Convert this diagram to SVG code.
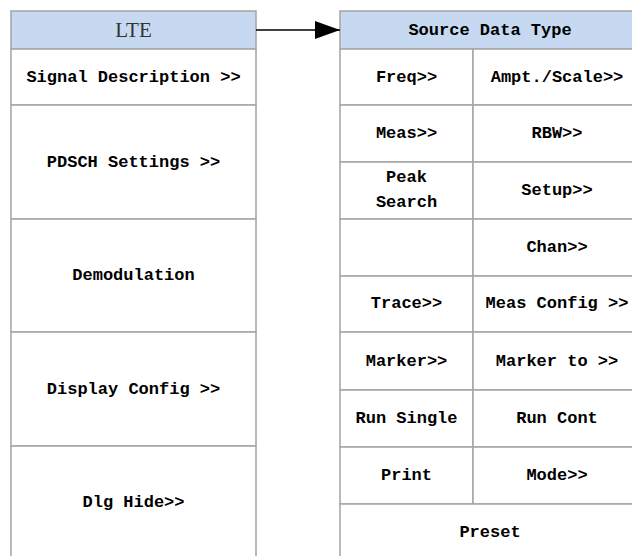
<svg xmlns="http://www.w3.org/2000/svg" width="632" height="556" viewBox="0 0 632 556">
<defs>
<style>
.cell{fill:#fff;stroke:#a8a8a8;stroke-width:1.6}
.hdr{fill:#c6d9f0;stroke:#a8a8a8;stroke-width:1.6}
.t{font-family:"Liberation Mono",monospace;font-size:17px;fill:#000;text-anchor:middle;dominant-baseline:central;font-weight:bold}
.lte{font-family:"Liberation Serif",serif;font-size:21px;fill:#333;text-anchor:middle;dominant-baseline:central}
</style>
<marker id="ah" markerWidth="26" markerHeight="18" refX="25" refY="9" orient="auto" markerUnits="userSpaceOnUse">
<path d="M0,0 L25,9 L0,18 Z" fill="#000"/>
</marker>
</defs>
<g id="lte">
<rect class="hdr" x="11" y="11" width="245" height="38"/>
<text class="lte" x="133.5" y="30">LTE</text>
<rect class="cell" x="11" y="49" width="245" height="56"/>
<text class="t" x="133.5" y="77">Signal Description &gt;&gt;</text>
<rect class="cell" x="11" y="105" width="245" height="114"/>
<text class="t" x="133.5" y="162">PDSCH Settings &gt;&gt;</text>
<rect class="cell" x="11" y="219" width="245" height="113"/>
<text class="t" x="133.5" y="275">Demodulation</text>
<rect class="cell" x="11" y="332" width="245" height="114"/>
<text class="t" x="133.5" y="389">Display Config &gt;&gt;</text>
<rect class="cell" x="11" y="446" width="245" height="120"/>
<text class="t" x="133.5" y="502">Dlg Hide&gt;&gt;</text>
</g>
<g id="source">
<rect class="hdr" x="340" y="11" width="301" height="38"/>
<text class="t" x="490" y="30">Source Data Type</text>
<rect class="cell" x="340" y="49" width="133" height="56"/>
<rect class="cell" x="473" y="49" width="168" height="56"/>
<text class="t" x="406.5" y="77">Freq&gt;&gt;</text>
<text class="t" x="557" y="77">Ampt./Scale&gt;&gt;</text>
<rect class="cell" x="340" y="105" width="133" height="57"/>
<rect class="cell" x="473" y="105" width="168" height="57"/>
<text class="t" x="406.5" y="133">Meas&gt;&gt;</text>
<text class="t" x="557" y="133">RBW&gt;&gt;</text>
<rect class="cell" x="340" y="162" width="133" height="57"/>
<rect class="cell" x="473" y="162" width="168" height="57"/>
<text class="t" x="406.5" y="177">Peak</text>
<text class="t" x="406.5" y="202">Search</text>
<text class="t" x="557" y="190">Setup&gt;&gt;</text>
<rect class="cell" x="340" y="219" width="133" height="57"/>
<rect class="cell" x="473" y="219" width="168" height="57"/>
<text class="t" x="557" y="247">Chan&gt;&gt;</text>
<rect class="cell" x="340" y="276" width="133" height="56"/>
<rect class="cell" x="473" y="276" width="168" height="56"/>
<text class="t" x="406.5" y="303">Trace&gt;&gt;</text>
<text class="t" x="557" y="303">Meas Config &gt;&gt;</text>
<rect class="cell" x="340" y="332" width="133" height="58"/>
<rect class="cell" x="473" y="332" width="168" height="58"/>
<text class="t" x="406.5" y="361">Marker&gt;&gt;</text>
<text class="t" x="557" y="361">Marker to &gt;&gt;</text>
<rect class="cell" x="340" y="390" width="133" height="57"/>
<rect class="cell" x="473" y="390" width="168" height="57"/>
<text class="t" x="406.5" y="418">Run Single</text>
<text class="t" x="557" y="418">Run Cont</text>
<rect class="cell" x="340" y="447" width="133" height="57"/>
<rect class="cell" x="473" y="447" width="168" height="57"/>
<text class="t" x="406.5" y="475">Print</text>
<text class="t" x="557" y="475">Mode&gt;&gt;</text>
<rect class="cell" x="340" y="504" width="301" height="62"/>
<text class="t" x="490" y="532">Preset</text>
</g>
<g id="connectors">
<line x1="256" y1="30" x2="340" y2="30" stroke="#000" stroke-width="1.6" marker-end="url(#ah)"/>
</g>
</svg>
